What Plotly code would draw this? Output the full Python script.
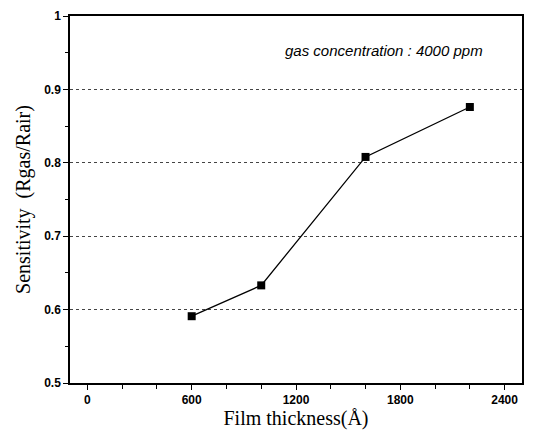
import plotly.graph_objects as go

thickness = [600, 1000, 1600, 2200]
sensitivity = [0.591, 0.633, 0.808, 0.876]
x_ticks = [0, 600, 1200, 1800, 2400]
y_ticks = [0.5, 0.6, 0.7, 0.8, 0.9, 1.0]
y_ticklabels = ["0.5", "0.6", "0.7", "0.8", "0.9", "1"]

fig = go.Figure()
fig.add_trace(go.Scatter(
    x=thickness, y=sensitivity, mode="lines+markers",
    line=dict(color="black", width=1.3),
    marker=dict(symbol="square", size=8, color="black"),
    showlegend=False,
))

fig.add_annotation(
    x=(485 - 70) / (536 - 70 - 14), y=1 - (44 - 9) / (435 - 9 - 52),
    xref="paper", yref="paper", showarrow=False,
    text="<i>gas concentration : 4000 ppm</i>",
    font=dict(family="Liberation Sans, Arial", size=15, color="black"),
    xanchor="right", yanchor="middle",
)

tickfont = dict(family="Liberation Sans, Arial", size=12, color="black", weight="bold")

fig.update_xaxes(
    range=[-100, 2500], tickvals=x_ticks, ticks="outside", ticklen=5, tickwidth=1,
    tickcolor="black", showline=True, linecolor="black", linewidth=1.5, mirror=True,
    showgrid=False, zeroline=False,
    minor=dict(dtick=200, tick0=0, ticks="outside", ticklen=4, tickcolor="black"),
    tickfont=tickfont,
    title=dict(text="Film thickness(Å)", font=dict(family="Liberation Serif, Times New Roman", size=20, color="black"), standoff=4),
)
fig.update_yaxes(
    range=[0.5, 1.0], tickvals=y_ticks, ticktext=y_ticklabels, ticks="outside", ticklen=5,
    tickwidth=1, tickcolor="black", showline=True, linecolor="black", linewidth=1.5, mirror=True,
    showgrid=True, gridcolor="#444444", griddash="dot", gridwidth=1, zeroline=False,
    minor=dict(dtick=0.05, tick0=0.5, ticks="outside", ticklen=3, tickcolor="black", showgrid=False),
    tickfont=tickfont,
    title=dict(text="Sensitivity  (Rgas/Rair)", font=dict(family="Liberation Serif, Times New Roman", size=20, color="black"), standoff=8),
)

fig.update_layout(
    width=536, height=435, margin=dict(l=70, r=14, t=9, b=52),
    plot_bgcolor="white", paper_bgcolor="white",
)
fig.write_html("out.html")
